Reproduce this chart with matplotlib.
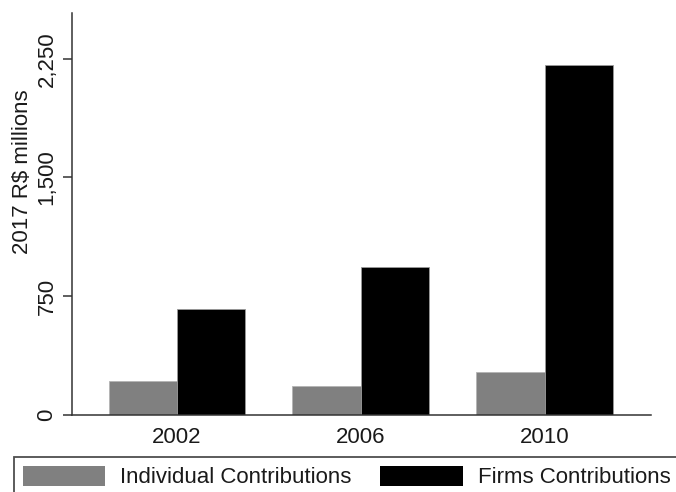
import numpy as np
import matplotlib
matplotlib.use("Agg")
import matplotlib.pyplot as plt
from matplotlib.ticker import FuncFormatter

# data (2017 R$ millions)
years = ["2002", "2006", "2010"]
individual = [214, 180, 271]
firms = [670, 932, 2212]
yticks = [0, 750, 1500, 2250]

plt.rcParams["font.family"] = ["Liberation Sans", "DejaVu Sans"]
plt.rcParams["font.size"] = 16

fig = plt.figure(figsize=(6.76, 4.92), dpi=100)
ax = fig.add_axes([72 / 676, 1 - 414.5 / 492, (651 - 72) / 676, (414.5 - 13) / 492])

x = np.arange(len(years))
w = 0.372
ax.bar(x - w / 2, individual, w, color="#808080", edgecolor="#b4b4b4", linewidth=0.6,
       label="Individual Contributions")
ax.bar(x + w / 2, firms, w, color="#000000", edgecolor="#9a9a9a", linewidth=0.6,
       label="Firms Contributions")

ax.set_xlim(-0.571, 2.578)
ax.set_ylim(0, 2540)
ax.set_xticks(x)
ax.set_xticklabels(years)
ax.set_yticks(yticks)
ax.yaxis.set_major_formatter(FuncFormatter(lambda v, p: f"{v:,.0f}"))

for s in ["top", "right"]:
    ax.spines[s].set_visible(False)
for s in ["left", "bottom"]:
    ax.spines[s].set_color("#333333")
    ax.spines[s].set_linewidth(1.1)

ax.tick_params(axis="x", length=0, pad=9, colors="#1a1a1a")
ax.tick_params(axis="y", length=6.5, width=1.1, color="#333333", pad=4,
               labelrotation=90, labelcolor="#1a1a1a")
for t in ax.get_yticklabels():
    t.set_va("center")

ax.set_ylabel("2017 R$ millions", color="#1a1a1a")
ax.yaxis.set_label_coords(-0.068, 0.606)

leg = fig.legend(loc="upper left", bbox_to_anchor=(14 / 676, 1 - 457 / 492),
                 ncol=2, frameon=True, fancybox=False, borderaxespad=0,
                 borderpad=0.4, handlelength=3.7, handleheight=1.0,
                 handletextpad=0.68, columnspacing=1.3, fontsize=16)
leg.get_frame().set_edgecolor("#222222")
leg.get_frame().set_linewidth(1.3)
for h in leg.legend_handles:
    h.set_edgecolor("none")
for t in leg.get_texts():
    t.set_color("#1a1a1a")

fig.savefig("out.png", dpi=100)
